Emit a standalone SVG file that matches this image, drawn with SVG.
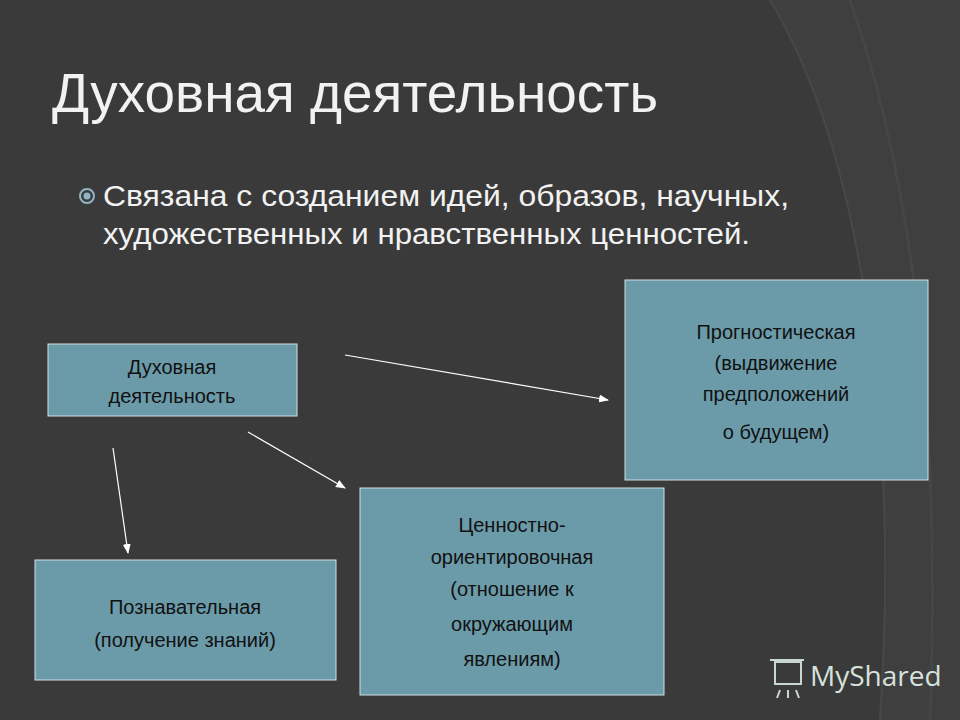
<svg xmlns="http://www.w3.org/2000/svg" width="960" height="720" viewBox="0 0 960 720">
<defs>
<style>
.t{font-family:"Liberation Sans",Arial,sans-serif;fill:#f2f2f2}
.b{fill:#6b9ba9;stroke:#cfdfe4;stroke-width:1}
.bt{font-family:"Liberation Sans",Arial,sans-serif;font-size:20px;fill:#111;text-anchor:middle}
.c{stroke:#fff;stroke-width:1.2;fill:none;marker-end:url(#ah)}
</style>
<marker id="ah" markerWidth="10" markerHeight="8" refX="9" refY="4" orient="auto" markerUnits="userSpaceOnUse"><path d="M0,0 L10,4 L0,8 Z" fill="#fff"/></marker>
</defs>
<rect width="960" height="720" fill="#3a3a3a"/>
<path d="M770,0 C860,150 900,420 880,720 L960,720 L960,0 Z" fill="#3f3f3f"/>
<path d="M770,0 C860,150 900,420 880,720" fill="none" stroke="#484848" stroke-width="2"/>
<path d="M850,0 C920,200 940,450 930,720" fill="none" stroke="#464646" stroke-width="3"/>
<text class="t" x="52" y="112" font-size="56" textLength="606" lengthAdjust="spacingAndGlyphs">Духовная деятельность</text>
<circle cx="87" cy="196" r="7" fill="none" stroke="#8fb6c2" stroke-width="2"/>
<circle cx="87" cy="196" r="3.5" fill="#8fb6c2"/>
<text class="t" x="103" y="206" font-size="29" textLength="686" lengthAdjust="spacingAndGlyphs">Связана с созданием идей, образов, научных,</text>
<text class="t" x="103" y="244" font-size="29" textLength="647" lengthAdjust="spacingAndGlyphs">художественных и нравственных ценностей.</text>
<g id="connectors">
<line class="c" x1="345" y1="355" x2="608" y2="400"/>
<line class="c" x1="248" y1="432" x2="345" y2="488"/>
<line class="c" x1="113" y1="448" x2="128" y2="553"/>
</g>
<g id="n1"><rect class="b" x="48" y="344" width="249" height="72"/>
<text class="bt" x="172" y="374">Духовная</text><text class="bt" x="172" y="403">деятельность</text></g>
<g id="n2"><rect class="b" x="625" y="280" width="303" height="200"/>
<text class="bt" x="776" y="339">Прогностическая</text><text class="bt" x="776" y="370">(выдвижение</text><text class="bt" x="776" y="401">предположений</text><text class="bt" x="776" y="439">о будущем)</text></g>
<g id="n3"><rect class="b" x="360" y="488" width="304" height="207"/>
<text class="bt" x="512" y="532">Ценностно-</text><text class="bt" x="512" y="564">ориентировочная</text><text class="bt" x="512" y="596">(отношение к</text><text class="bt" x="512" y="631">окружающим</text><text class="bt" x="512" y="666">явлениям)</text></g>
<g id="n4"><rect class="b" x="35" y="560" width="301" height="120"/>
<text class="bt" x="185" y="614">Познавательная</text><text class="bt" x="185" y="647">(получение знаний)</text></g>
<g id="logo" fill="none" stroke="#c8d8d0" stroke-width="2">
<rect x="775" y="662" width="26" height="22"/>
<path d="M770,660 h34 M780,690 l-3,8 M788,690 v8 M796,690 l3,8"/>
</g>
<text x="810" y="686" font-family="Open Sans,sans-serif" font-size="28" fill="#d6e2dc">MyShared</text>
</svg>
